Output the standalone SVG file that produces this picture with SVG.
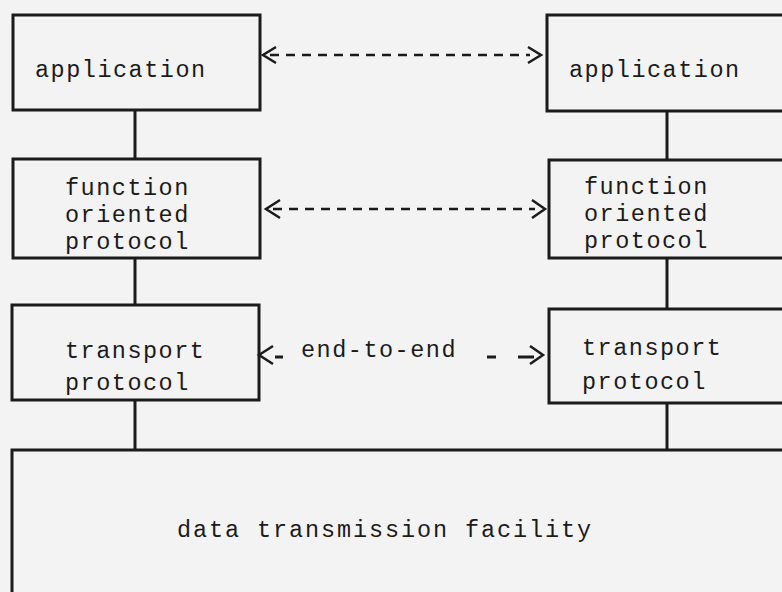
<svg xmlns="http://www.w3.org/2000/svg" width="782" height="592" viewBox="0 0 782 592">
<style>
.box{fill:none;stroke:#1b1b1b;stroke-width:3}
.t{font-family:"Liberation Mono","Courier New",monospace;font-size:23.5px;letter-spacing:1.5px;fill:#1b1b1b}
.c{stroke:#1b1b1b;stroke-width:3;fill:none}
.d{stroke:#1b1b1b;stroke-width:2.5;fill:none;stroke-dasharray:9 7}
.h{stroke:#1b1b1b;stroke-width:2.5;fill:none;stroke-linejoin:miter}
</style>
<rect width="782" height="592" fill="#f3f3f3"/>
<g id="connectors">
<line class="c" x1="135" y1="110" x2="135" y2="159"/>
<line class="c" x1="135" y1="258" x2="135" y2="305"/>
<line class="c" x1="135" y1="400" x2="135" y2="450"/>
<line class="c" x1="667" y1="111" x2="667" y2="160"/>
<line class="c" x1="667" y1="258" x2="667" y2="309"/>
<line class="c" x1="667" y1="403" x2="667" y2="450"/>
<line class="d" x1="270" y1="55" x2="530" y2="55"/>
<polyline class="h" points="276,47 263,55 276,63"/>
<polyline class="h" points="528,47 541,55 528,63"/>
<line class="d" x1="273" y1="209" x2="535" y2="209"/>
<polyline class="h" points="280,200 266,209 280,218"/>
<polyline class="h" points="532,200 545,209 532,218"/>
<polyline class="h" points="273,346 259,355 273,364"/>
<line class="c" x1="275" y1="357" x2="283" y2="357" stroke-width="2.5"/>
<line class="c" x1="487" y1="357" x2="496" y2="357" stroke-width="2.5"/>
<line class="c" x1="518" y1="357" x2="534" y2="357" stroke-width="2.5"/>
<polyline class="h" points="530,346 543,355 530,364"/>
<text class="t" x="301" y="357">end-to-end</text>
</g>
<g id="app-left"><rect class="box" x="13" y="15" width="247" height="95"/><text class="t" x="35" y="77">application</text></g>
<g id="func-left"><rect class="box" x="13" y="159" width="247" height="99"/><text class="t" x="65" y="195">function</text><text class="t" x="65" y="222">oriented</text><text class="t" x="65" y="249">protocol</text></g>
<g id="trans-left"><rect class="box" x="12" y="305" width="247" height="95"/><text class="t" x="65" y="358">transport</text><text class="t" x="65" y="390">protocol</text></g>
<g id="app-right"><rect class="box" x="547" y="15" width="260" height="96"/><text class="t" x="569" y="77">application</text></g>
<g id="func-right"><rect class="box" x="549" y="160" width="260" height="98"/><text class="t" x="584" y="194">function</text><text class="t" x="584" y="221">oriented</text><text class="t" x="584" y="248">protocol</text></g>
<g id="trans-right"><rect class="box" x="549" y="309" width="260" height="94"/><text class="t" x="582" y="355">transport</text><text class="t" x="582" y="389">protocol</text></g>
<g id="facility"><rect class="box" x="12" y="450" width="800" height="160"/><text class="t" x="177" y="537" style="letter-spacing:1.9px">data transmission facility</text></g>
</svg>
